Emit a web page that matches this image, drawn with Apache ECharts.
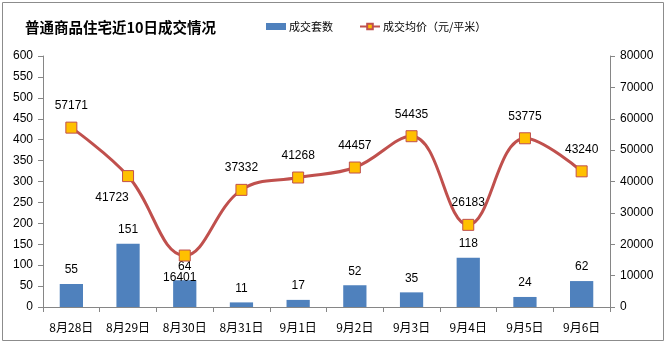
<!DOCTYPE html>
<html><head><meta charset="utf-8">
<script src="https://cdn.jsdelivr.net/npm/echarts@6/dist/echarts.min.js"></script>
<style>html,body{margin:0;padding:0;background:#fff}#c{width:667px;height:345px}</style>
</head><body><div id="c"></div>
<script>
const categories = ['8月28日','8月29日','8月30日','8月31日','9月1日','9月2日','9月3日','9月4日','9月5日','9月6日'];
const units = [55,151,64,11,17,52,35,118,24,62];
const avgPrice = [57171,41723,16401,37332,41268,44457,54435,26183,53775,43240];
const priceLabelBelow = [false,true,true,false,false,false,false,false,false,false];
const priceLabelShift = [0,-16,-5,0,0,0,0,0,0,0];

const font = '"Liberation Sans","Noto Sans CJK SC",sans-serif';
const cjk = '"Noto Sans CJK SC",sans-serif';
const chart = echarts.init(document.getElementById('c'));
chart.setOption({
  animation:false,
  textStyle:{fontFamily:font},
  graphic:[{type:'rect',shape:{x:2.5,y:2.5,width:661,height:338},style:{fill:'none',stroke:'#8c8c8c',lineWidth:1},silent:true}],
  title:{text:'普通商品住宅近10日成交情况',left:20,top:15,textStyle:{fontSize:14.5,fontWeight:'bold',color:'#000',fontFamily:cjk}},
  legend:{top:16,left:261,itemGap:26,itemWidth:20,itemHeight:7,textStyle:{fontSize:11,color:'#000',fontFamily:cjk,padding:[0,0,0,-2]},
    data:[{name:'成交套数',icon:'rect'},{name:'成交均价（元/平米）'}]},
  grid:{left:43,right:57,top:56,bottom:38},
  xAxis:{type:'category',data:categories,
    axisLine:{lineStyle:{color:'#868686'}},
    axisTick:{show:true,length:5,lineStyle:{color:'#868686'}},
    axisLabel:{color:'#000',fontSize:12,margin:14,interval:0,fontFamily:cjk}},
  yAxis:[
    {type:'value',min:0,max:600,interval:50,
     axisLine:{show:true,lineStyle:{color:'#868686'}},
     axisTick:{show:true,length:5,lineStyle:{color:'#868686'}},
     axisLabel:{color:'#000',fontSize:12,margin:10},splitLine:{show:false}},
    {type:'value',min:0,max:80000,interval:10000,position:'right',
     axisLine:{show:true,lineStyle:{color:'#868686'}},
     axisTick:{show:true,length:5,lineStyle:{color:'#868686'}},
     axisLabel:{color:'#000',fontSize:12,margin:10,formatter:v=>String(v)},splitLine:{show:false}}
  ],
  series:[
    {name:'成交套数',type:'bar',data:units,barWidth:'41%',yAxisIndex:0,
     itemStyle:{color:'#4F81BD'},
     label:{show:true,position:'top',distance:8,color:'#000',fontSize:12}},
    {name:'成交均价（元/平米）',type:'line',yAxisIndex:1,smooth:0.4,
     data:avgPrice.map((v,i)=>({value:v,label:{position:priceLabelBelow[i]?'bottom':'top',offset:[priceLabelShift[i],0]}})),
     symbol:'rect',symbolSize:11,
     lineStyle:{color:'#C0504D',width:3},
     itemStyle:{color:'#FFC000',borderColor:'#C0504D',borderWidth:1},
     label:{show:true,distance:10,color:'#000',fontSize:12},z:5}
  ]
});
</script></body></html>
